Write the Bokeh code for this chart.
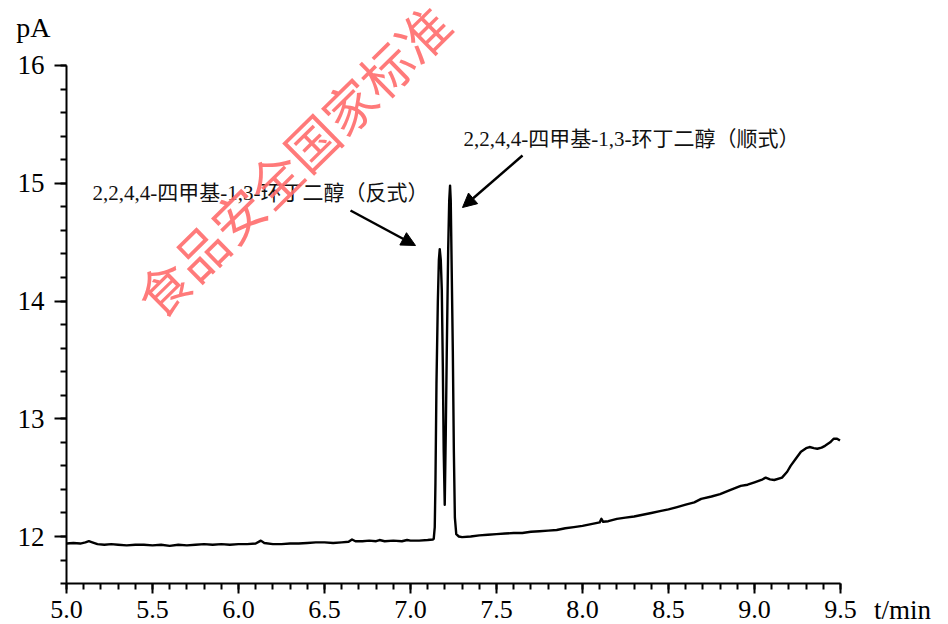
from bokeh.plotting import figure
from bokeh.models import Range1d, SingleIntervalTicker, Label, Arrow, NormalHead
from bokeh.embed import file_html
from bokeh.resources import INLINE

# ---------------- data ----------------
baseline_before_t = [5.00, 5.04, 5.08, 5.11, 5.13, 5.15, 5.18, 5.22, 5.26, 5.30,
                     5.35, 5.40, 5.45, 5.50, 5.55, 5.60, 5.65, 5.70, 5.75, 5.80,
                     5.85, 5.90, 5.95, 6.00, 6.05, 6.10, 6.13, 6.15, 6.20, 6.25,
                     6.30, 6.35, 6.40, 6.45, 6.50, 6.55, 6.60, 6.64, 6.66, 6.68,
                     6.72, 6.76, 6.80, 6.82, 6.85, 6.90, 6.95, 6.98, 7.00, 7.05,
                     7.10, 7.13]
baseline_before_s = [11.94, 11.945, 11.94, 11.95, 11.96, 11.95, 11.935, 11.93, 11.935, 11.93,
                     11.925, 11.93, 11.93, 11.925, 11.93, 11.92, 11.93, 11.925, 11.93, 11.935,
                     11.93, 11.935, 11.93, 11.935, 11.935, 11.94, 11.965, 11.945, 11.935, 11.935,
                     11.94, 11.94, 11.945, 11.95, 11.95, 11.945, 11.95, 11.955, 11.975, 11.96,
                     11.96, 11.965, 11.96, 11.97, 11.96, 11.965, 11.96, 11.97, 11.965, 11.965,
                     11.97, 11.975]

peaks_t = [7.135, 7.141, 7.145, 7.151, 7.159, 7.165, 7.170, 7.176, 7.182, 7.188,
           7.193, 7.199, 7.205, 7.211, 7.219, 7.225, 7.230, 7.234, 7.238, 7.246,
           7.252, 7.258, 7.266, 7.281]
peaks_s = [11.98, 12.08, 12.45, 13.30, 14.00, 14.35, 14.44, 14.35, 14.09, 13.44,
           12.73, 12.27, 12.87, 13.58, 14.43, 14.85, 14.98, 14.85, 14.43, 13.58,
           12.73, 12.16, 12.02, 12.00]

baseline_after_t = [7.30, 7.35, 7.40, 7.45, 7.50, 7.55, 7.60, 7.65, 7.70, 7.75,
                    7.80, 7.85, 7.90, 7.95, 8.00, 8.05, 8.10, 8.11, 8.12, 8.15,
                    8.20, 8.25, 8.30, 8.35, 8.40, 8.45, 8.50, 8.55, 8.60, 8.65,
                    8.69, 8.75, 8.80, 8.85, 8.92, 8.96, 9.00, 9.04, 9.065, 9.09,
                    9.115, 9.16, 9.19, 9.21, 9.24, 9.27, 9.30, 9.32, 9.345, 9.365,
                    9.39, 9.41, 9.44, 9.46, 9.48, 9.497]
baseline_after_s = [11.995, 12.00, 12.01, 12.015, 12.02, 12.025, 12.03, 12.03, 12.04, 12.045,
                    12.05, 12.055, 12.07, 12.08, 12.09, 12.105, 12.12, 12.15, 12.125, 12.13,
                    12.15, 12.16, 12.17, 12.185, 12.20, 12.215, 12.23, 12.25, 12.27, 12.29,
                    12.32, 12.34, 12.36, 12.39, 12.43, 12.44, 12.46, 12.48, 12.50, 12.485,
                    12.48, 12.50, 12.55, 12.60, 12.66, 12.72, 12.75, 12.76, 12.75, 12.745,
                    12.755, 12.77, 12.80, 12.83, 12.83, 12.815]

time_min = baseline_before_t + peaks_t + baseline_after_t
signal_pA = baseline_before_s + peaks_s + baseline_after_s

x_tick_values = [5.0, 5.5, 6.0, 6.5, 7.0, 7.5, 8.0, 8.5, 9.0, 9.5]
x_tick_labels = ["5.0", "5.5", "6.0", "6.5", "7.0", "7.5", "8.0", "8.5", "9.0", "9.5"]
y_tick_values = [12, 13, 14, 15, 16]
y_tick_labels = ["12", "13", "14", "15", "16"]

trans_label = "2,2,4,4-四甲基-1,3-环丁二醇（反式）"
cis_label = "2,2,4,4-四甲基-1,3-环丁二醇（顺式）"
y_unit = "pA"
x_unit = "t/min"
watermark_text = "食品安全国家标准"

# axis extents (data limits of the drawn axes)
x_axis_bounds = (5.0, 9.5)
y_axis_bounds = (11.6, 16.0)

# ---------------- figure ----------------
# The frame fills the whole canvas; the axes are pinned at the data edges.
p = figure(width=948, height=624,
           x_range=Range1d(4.61628, 10.1279), y_range=Range1d(11.2527, 16.552),
           output_backend="svg", toolbar_location=None, min_border=0)
p.outline_line_color = None
p.xgrid.visible = False
p.ygrid.visible = False
p.background_fill_color = "white"
p.border_fill_color = "white"

p.line(time_min, signal_pA, line_color="black", line_width=2.4, line_join="round")

serif = "Liberation Serif"

xa = p.xaxis[0]
xa.fixed_location = y_axis_bounds[0]
xa.bounds = x_axis_bounds
xa.ticker = SingleIntervalTicker(interval=0.5, num_minor_ticks=5)
xa.major_label_overrides = {v: s for v, s in zip(x_tick_values, x_tick_labels)}
xa.axis_line_width = 2
xa.major_tick_line_width = 2
xa.minor_tick_line_width = 2
xa.major_tick_out = 10
xa.major_tick_in = 0
xa.minor_tick_out = 6
xa.minor_tick_in = 0
xa.major_label_standoff = 7
xa.major_label_text_font = serif
xa.major_label_text_font_size = "26px"
xa.major_label_text_color = "black"

ya = p.yaxis[0]
ya.fixed_location = x_axis_bounds[0]
ya.bounds = y_axis_bounds
ya.ticker = SingleIntervalTicker(interval=1, num_minor_ticks=5)
ya.major_label_overrides = {v: s for v, s in zip(y_tick_values, y_tick_labels)}
ya.axis_line_width = 2
ya.major_tick_line_width = 2
ya.minor_tick_line_width = 2
ya.major_tick_out = 12
ya.major_tick_in = 0
ya.minor_tick_out = 6
ya.minor_tick_in = 0
ya.major_label_standoff = 10
ya.major_label_text_font = serif
ya.major_label_text_font_size = "27px"
ya.major_label_text_color = "black"

# unit labels
p.add_layout(Label(x=4.808, y=16.323, text=y_unit, text_font=serif, text_font_size="28px",
                   text_color="black", text_align="center", text_baseline="middle"))
p.add_layout(Label(x=9.695, y=11.3716, text=x_unit, text_font=serif, text_font_size="27px",
                   text_color="black", text_align="left", text_baseline="middle"))

# peak annotations
ann_font = "Liberation Serif, Noto Sans CJK SC"
p.add_layout(Label(x=5.1512, y=14.9214, text=trans_label, text_font=ann_font,
                   text_font_size="21px", text_color="#111111",
                   text_align="left", text_baseline="middle"))
p.add_layout(Label(x=7.3081, y=15.380, text=cis_label, text_font=ann_font,
                   text_font_size="21px", text_color="#111111",
                   text_align="left", text_baseline="middle"))

p.add_layout(Arrow(x_start=6.6512, y_start=14.7686, x_end=7.0291, y_end=14.4714,
                   line_width=2.5, line_color="black",
                   end=NormalHead(size=14, fill_color="black", line_color="black")))
p.add_layout(Arrow(x_start=7.6512, y_start=15.2356, x_end=7.3023, y_end=14.7940,
                   line_width=2.5, line_color="black",
                   end=NormalHead(size=14, fill_color="black", line_color="black")))

# watermark
p.add_layout(Label(x=5.4506, y=13.960, text=watermark_text, angle=0.777,
                   text_font="Noto Sans CJK SC", text_font_size="52px",
                   text_color="#FF6B6B", text_alpha=0.9,
                   text_align="left", text_baseline="middle"))

open("out.html", "w").write(file_html(p, INLINE))
